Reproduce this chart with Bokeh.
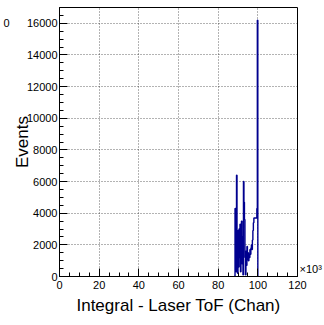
import numpy as np
from bokeh.plotting import figure
from bokeh.models import Range1d, SingleIntervalTicker, FixedTicker, LinearAxis
from bokeh.embed import file_html
from bokeh.resources import INLINE

# Histogram: Integral - Laser ToF, values in units of 10^3 channels
bin_low = 88.0
bin_width = 0.25
counts = [
    0, 0, 4300, 3800, 300, 6400, 1500, 200,
    2900, 600, 3000, 1200, 3300, 300, 2200, 3500,
    800, 2500, 100, 6000, 4700, 3600, 1200, 100,
    1600, 700, 1900, 1100, 1500, 1000, 1400, 1200,
    1700, 1400, 1800, 2000, 1700, 2300, 2900, 3400,
    3700, 3700, 3700, 3700, 3700, 3700, 4300, 16200,
]
x_ticks_interval = 20
y_ticks_interval = 2000
x_title = "Integral - Laser ToF (Chan)"
y_title = "Events"
x_exponent_text = "×10³"
corner_text = "0"

edges = bin_low + bin_width * np.arange(len(counts) + 1)
ys = list(counts) + [0]

FONT = "Liberation Sans"

p = figure(width=324, height=325, output_backend="svg", toolbar_location=None,
           x_range=Range1d(0, 120), y_range=Range1d(0, 17000),
           min_border_left=59, min_border_right=26, min_border_top=7,
           min_border_bottom=49)
p.background_fill_color = "white"
p.border_fill_color = "white"
p.outline_line_color = "black"
p.outline_line_width = 1

p.step(edges, ys, mode="after", line_color="#00008f", line_width=1.4)

p.xaxis.ticker = SingleIntervalTicker(interval=x_ticks_interval, num_minor_ticks=4)
p.yaxis.ticker = SingleIntervalTicker(interval=y_ticks_interval, num_minor_ticks=4)

for ax in (p.xaxis, p.yaxis):
    ax.major_tick_in = 8
    ax.major_tick_out = 0
    ax.minor_tick_in = 4
    ax.minor_tick_out = 0
    ax.axis_line_color = "black"
    ax.major_tick_line_color = "black"
    ax.minor_tick_line_color = "black"
    ax.major_label_text_font = FONT
    ax.major_label_text_font_size = "11px"
    ax.major_label_text_color = "black"
    ax.axis_label_text_font = FONT
    ax.axis_label_text_font_size = "17px"
    ax.axis_label_text_font_style = "normal"
    ax.axis_label_text_color = "black"

p.xaxis.major_label_standoff = 4
p.yaxis.major_label_standoff = 2
p.xaxis.axis_label = x_title
p.yaxis.axis_label = y_title
p.xaxis.axis_label_standoff = 4
p.yaxis.axis_label_standoff = -8

for g in (p.xgrid, p.ygrid):
    g.grid_line_color = "black"
    g.grid_line_alpha = 0.6
    g.grid_line_dash = "1 2"
    g.grid_line_width = 1
p.xgrid.ticker = p.xaxis.ticker
p.ygrid.ticker = p.yaxis.ticker


def text_axis(pos, label, standoff):
    ax = LinearAxis(ticker=FixedTicker(ticks=[pos]),
                    major_label_overrides={pos: label})
    ax.axis_line_color = None
    ax.major_tick_line_color = None
    ax.minor_tick_line_color = None
    ax.major_tick_in = 0
    ax.major_tick_out = 0
    ax.minor_tick_in = 0
    ax.minor_tick_out = 0
    ax.major_label_standoff = standoff
    ax.major_label_text_font = FONT
    ax.major_label_text_font_size = "11px"
    ax.major_label_text_color = "black"
    return ax


# exponent marker at the right end of the x axis
p.add_layout(text_axis(500, x_exponent_text, 2), "right")
# stray "0" at the top-left corner
p.add_layout(text_axis(16000, corner_text, 0), "left")

open("out.html", "w").write(file_html(p, INLINE))
